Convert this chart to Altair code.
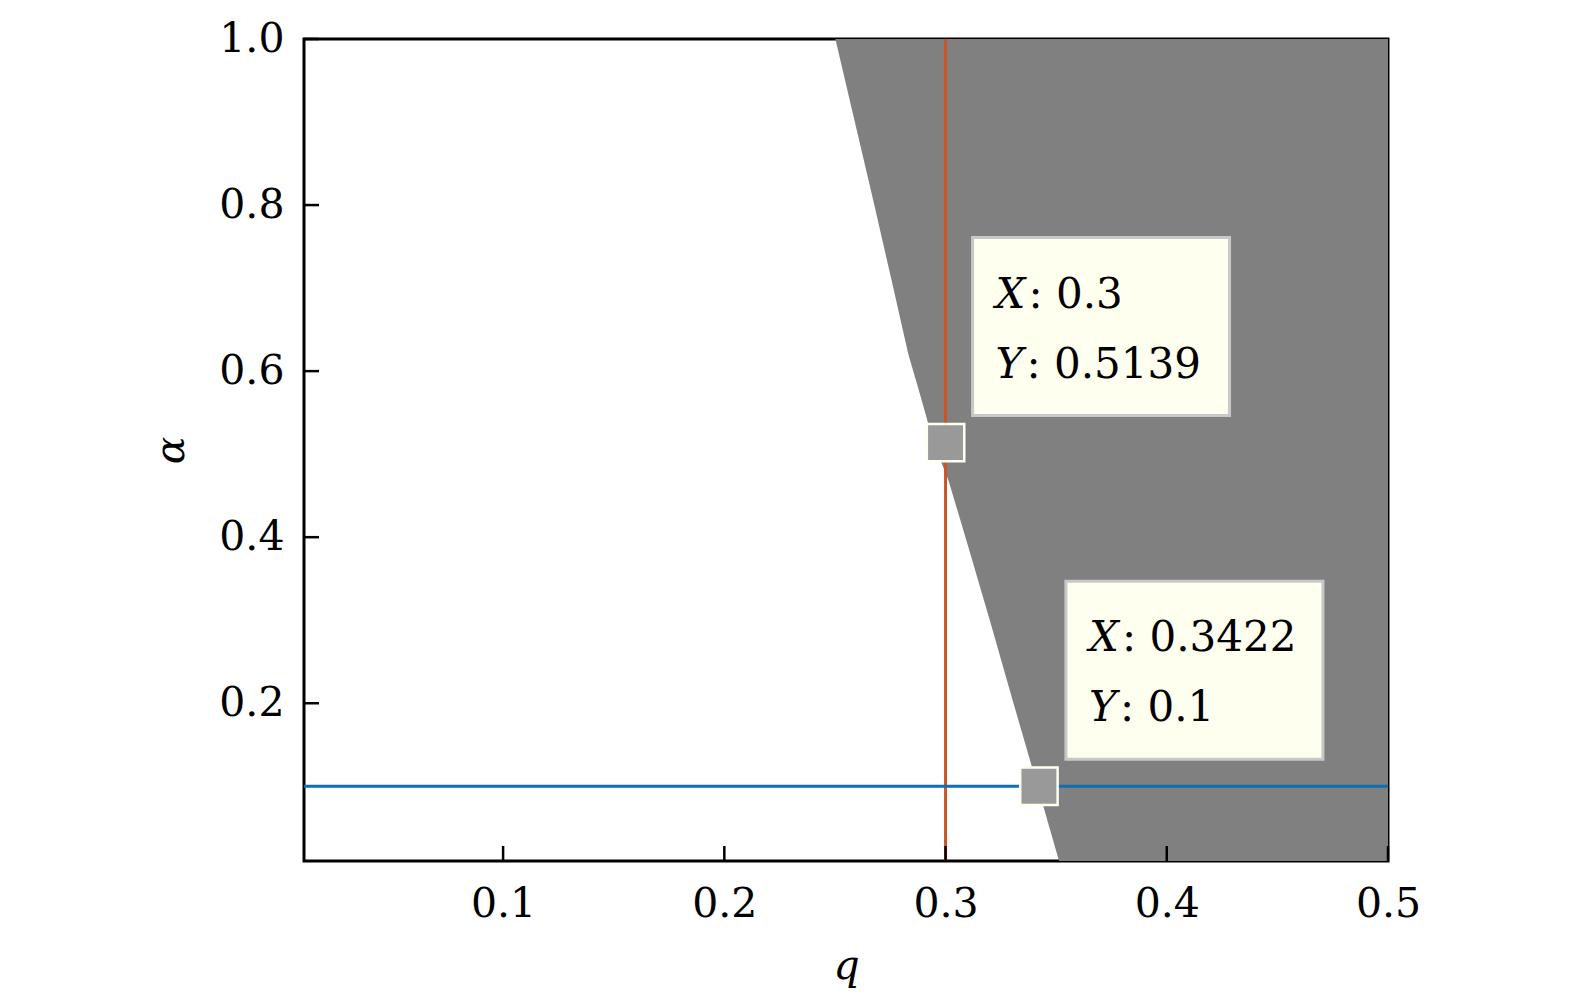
import altair as alt
import pandas as pd

# boundary of the shaded region (q at which the region starts, per alpha)
bound_alpha = [1.0, 0.9, 0.8, 0.7, 0.62, 0.58, 0.5139, 0.4677, 0.4, 0.3, 0.2, 0.1, 0.01]
bound_q = [0.2502, 0.2590, 0.2678, 0.2764, 0.2832, 0.2876, 0.2946, 0.3014, 0.3090, 0.3200, 0.3307, 0.3416, 0.3513]

q_line = 0.3
alpha_line = 0.1

tip_q = [0.3, 0.3422]
tip_alpha = [0.5139, 0.1]
tip_xtext = [": 0.3", ": 0.3422"]
tip_ytext = [": 0.5139", ": 0.1"]

x_ticks = [0.1, 0.2, 0.3, 0.4, 0.5]
y_ticks = [0.2, 0.4, 0.6, 0.8, 1.0]

q_domain = [0.01, 0.5]
a_domain = [0.01, 1.0]

FONT = "DejaVu Serif"
FS = 41

bound = pd.DataFrame({"a": bound_alpha, "q": bound_q, "qmax": q_domain[1]})
tips = pd.DataFrame({"q": tip_q, "a": tip_alpha, "xt": tip_xtext, "yt": tip_ytext,
                     "X": ["X", "X"], "Y": ["Y", "Y"]})
xt = pd.DataFrame({"v": x_ticks, "base": a_domain[0]})
yt = pd.DataFrame({"v": y_ticks, "base": q_domain[0]})

xs = alt.Scale(domain=q_domain, nice=False, zero=False)
ys = alt.Scale(domain=a_domain, nice=False, zero=False)

x_axis = alt.Axis(values=x_ticks, format=".1f", tickSize=0, labelPadding=23, title="q",
                  titleFontStyle="italic", titleFontWeight="normal", titlePadding=22,
                  grid=False, domain=False, labelFlush=False)
y_axis = alt.Axis(values=y_ticks, format=".1f", tickSize=0, labelPadding=20, title="α",
                  titleFontStyle="italic", titleFontWeight="normal", titlePadding=26,
                  grid=False, domain=False, labelFlush=False)

area = alt.Chart(bound).mark_area(orient="horizontal", color="#808080", opacity=1).encode(
    y=alt.Y("a:Q", scale=ys, axis=y_axis),
    x=alt.X("q:Q", scale=xs, axis=x_axis),
    x2="qmax:Q",
)

vline = alt.Chart(pd.DataFrame({"q": [q_line]})).mark_rule(color="#C8552A", strokeWidth=3).encode(
    x=alt.X("q:Q", scale=xs))
hline = alt.Chart(pd.DataFrame({"a": [alpha_line]})).mark_rule(color="#0E6EAF", strokeWidth=3).encode(
    y=alt.Y("a:Q", scale=ys))

base_tip = alt.Chart(tips).encode(x=alt.X("q:Q", scale=xs), y=alt.Y("a:Q", scale=ys))

markers = base_tip.mark_square(size=1400, color="#999999", opacity=1, stroke="#FFFFF0",
                               strokeWidth=2.5, filled=True)

boxes = alt.Chart(tips).mark_rect(fill="#FFFFF0", stroke="#C8C8C8", strokeWidth=3,
                                  xOffset=27, x2Offset=284, yOffset=-205, y2Offset=-27).encode(
    x=alt.X("q:Q", scale=xs), x2="q:Q", y=alt.Y("a:Q", scale=ys), y2="a:Q")

txt_kw = dict(font=FONT, fontSize=42, align="left", baseline="middle", color="black")
t_X = base_tip.mark_text(dx=50, dy=-148, fontStyle="italic", **txt_kw).encode(text="X:N")
t_xv = base_tip.mark_text(dx=83, dy=-148, **txt_kw).encode(text="xt:N")
t_Y = base_tip.mark_text(dx=50, dy=-78, fontStyle="italic", **txt_kw).encode(text="Y:N")
t_yv = base_tip.mark_text(dx=81, dy=-78, **txt_kw).encode(text="yt:N")

xticks = alt.Chart(xt).mark_rule(color="black", strokeWidth=2.5, y2Offset=-15).encode(
    x=alt.X("v:Q", scale=xs), y=alt.Y("base:Q", scale=ys), y2="base:Q")
yticks = alt.Chart(yt).mark_rule(color="black", strokeWidth=2.5, x2Offset=15).encode(
    y=alt.Y("v:Q", scale=ys), x=alt.X("base:Q", scale=xs), x2="base:Q")

chart = alt.layer(area, vline, hline, markers, boxes, t_X, t_xv, t_Y, t_yv, xticks, yticks).properties(
    width=1084, height=822,
    autosize=alt.AutoSizeParams(type="none"),
    padding={"left": 296, "top": 31, "right": 170, "bottom": 142},
    background="white",
).configure_view(stroke="black", strokeWidth=3).configure_axis(
    labelFont=FONT, labelFontSize=FS, labelColor="black",
    titleFont=FONT, titleFontSize=FS, titleColor="black",
)

chart.save("out.html", embed_options={"renderer": "svg", "actions": False})
